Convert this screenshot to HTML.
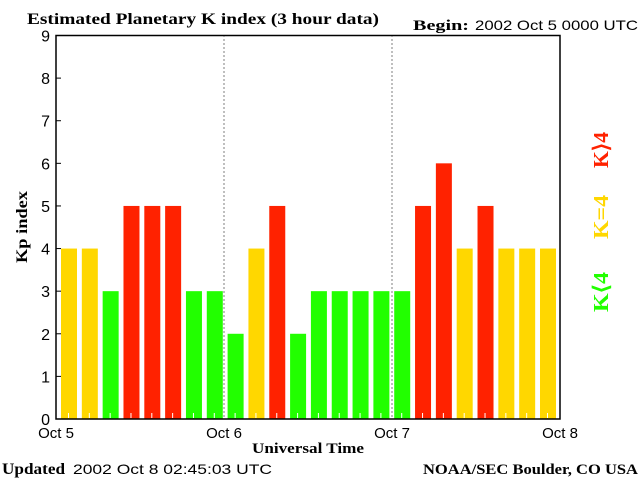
<!DOCTYPE html>
<html><head><meta charset="utf-8"><style>
body{margin:0;background:#fff;width:640px;height:480px;overflow:hidden}
svg{display:block}
</style></head><body>
<svg id="c" width="640" height="480" xmlns="http://www.w3.org/2000/svg">
<text x="27" y="24" textLength="352" lengthAdjust="spacingAndGlyphs" font-family="Liberation Serif, serif" font-weight="bold" font-size="16">Estimated Planetary K index (3 hour data)</text>
<text x="413" y="30" textLength="56" lengthAdjust="spacingAndGlyphs" font-family="Liberation Serif, serif" font-weight="bold" font-size="15">Begin:</text>
<text x="475" y="30" textLength="163" lengthAdjust="spacingAndGlyphs" font-family="Liberation Sans, sans-serif" font-size="14">2002 Oct 5 0000 UTC</text>
<text x="2" y="474" textLength="63" lengthAdjust="spacingAndGlyphs" font-family="Liberation Serif, serif" font-weight="bold" font-size="16">Updated</text>
<text x="73" y="474" textLength="199" lengthAdjust="spacingAndGlyphs" font-family="Liberation Sans, sans-serif" font-size="14">2002 Oct  8 02:45:03 UTC</text>
<text x="638" y="474" text-anchor="end" textLength="215" lengthAdjust="spacingAndGlyphs" font-family="Liberation Serif, serif" font-weight="bold" font-size="15">NOAA/SEC Boulder, CO USA</text>
<text x="308" y="453" text-anchor="middle" textLength="112" lengthAdjust="spacingAndGlyphs" font-family="Liberation Serif, serif" font-weight="bold" font-size="15">Universal Time</text>
<text transform="translate(27,227) rotate(-90)" text-anchor="middle" textLength="72" lengthAdjust="spacingAndGlyphs" font-family="Liberation Serif, serif" font-weight="bold" font-size="16">Kp index</text>
<g font-family="Liberation Serif, serif" font-weight="bold" font-size="21">
<text transform="translate(608,150) rotate(-90)" text-anchor="middle" textLength="36" lengthAdjust="spacingAndGlyphs" fill="#ff2200">K⟩4</text>
<text transform="translate(608,217) rotate(-90)" text-anchor="middle" textLength="44" lengthAdjust="spacingAndGlyphs" fill="#ffd700">K=4</text>
<text transform="translate(608,292) rotate(-90)" text-anchor="middle" textLength="40" lengthAdjust="spacingAndGlyphs" fill="#22ff00">K⟨4</text>
</g>
<g id="plot"></g>
</svg>
<script>
const kpValues=[4,4,3,5,5,5,3,3,2,4,5,2,3,3,3,3,3,5,6,4,5,4,4,4];
const dayLabels=["Oct 5","Oct 6","Oct 7","Oct 8"];
const yTicks=[0,1,2,3,4,5,6,7,8,9];
const NS="http://www.w3.org/2000/svg";
const L=56,R=560,T=35.5,B=419;
const bx=i=>L+5+(R-L-25)*i/(kpValues.length-1);
const y=v=>B-(B-T)*v/9;
const g=document.getElementById('plot');
function mk(t,a){const e=document.createElementNS(NS,t);for(const k in a)e.setAttribute(k,a[k]);g.appendChild(e);return e;}
kpValues.forEach((v,i)=>{
 const col=v>4?'#ff2200':v===4?'#ffd700':'#22ff00';
 const r=mk('rect',{x:bx(i),y:y(v),width:16,height:B-y(v),fill:col});
 
 
 const tk=mk('line',{x1:bx(i)+7.5,x2:bx(i)+7.5,y1:B-1,y2:B-6,stroke:'#fff'});
 
 
});
for(let d=1;d<dayLabels.length-1;d++){
 const xd=L+(R-L)*d/(dayLabels.length-1);
 const ln=mk('line',{x1:xd,x2:xd,y1:T,y2:B,stroke:'#000','stroke-dasharray':'1,3'});
 
 
}
const fr=mk('rect',{x:L,y:T,width:R-L,height:B-T,fill:'none',stroke:'#000','stroke-width':1.5});


yTicks.forEach(v=>{
 const t=mk('line',{x1:L,x2:L+5,y1:y(v),y2:y(v),stroke:'#000'});
 
 
 const tx=mk('text',{x:L-6,y:y(v)+6,'text-anchor':'end','font-family':'Liberation Sans, sans-serif','font-size':16});
 tx.textContent=v;
 
 
});
dayLabels.forEach((s,d)=>{
 const xd=L+(R-L)*d/(dayLabels.length-1);
 const tx=mk('text',{x:xd,y:438,'text-anchor':'middle','font-family':'Liberation Sans, sans-serif','font-size':15});
 tx.textContent=s;
 
 
});
</script>
</body></html>
